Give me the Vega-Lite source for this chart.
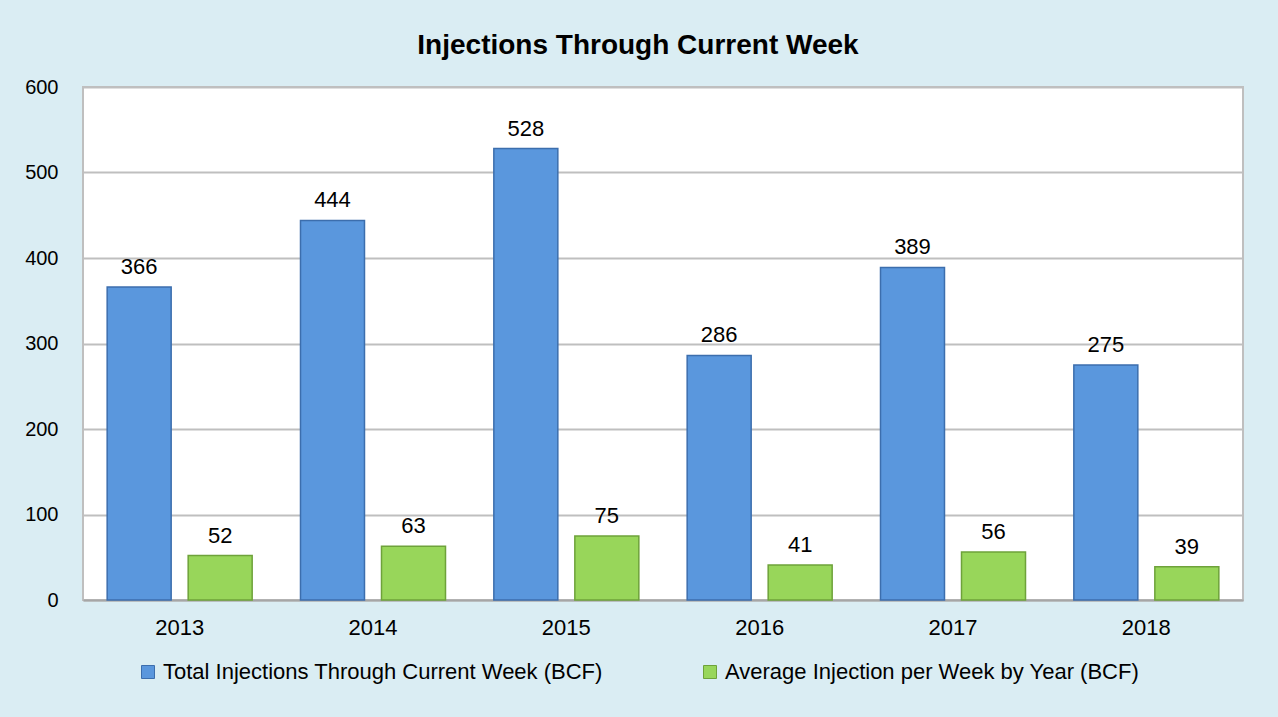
{
  "$schema": "https://vega.github.io/schema/vega-lite/v6.json",
  "autosize": {"type": "none"},
  "width": 1160,
  "height": 513,
  "padding": {"left": 83, "top": 87, "right": 35, "bottom": 117},
  "background": "#DAEDF3",
  "title": {
    "text": "Injections Through Current Week",
    "anchor": "middle",
    "frame": "group",
    "dx": -25,
    "offset": 17,
    "fontSize": 28,
    "fontWeight": "bold",
    "font": "Liberation Sans",
    "color": "#000000"
  },
  "data": {
    "values": [
      {"year": "2013", "series": "Total Injections Through Current Week (BCF)", "value": 366},
      {"year": "2013", "series": "Average Injection per Week by Year (BCF)", "value": 52},
      {"year": "2014", "series": "Total Injections Through Current Week (BCF)", "value": 444},
      {"year": "2014", "series": "Average Injection per Week by Year (BCF)", "value": 63},
      {"year": "2015", "series": "Total Injections Through Current Week (BCF)", "value": 528},
      {"year": "2015", "series": "Average Injection per Week by Year (BCF)", "value": 75},
      {"year": "2016", "series": "Total Injections Through Current Week (BCF)", "value": 286},
      {"year": "2016", "series": "Average Injection per Week by Year (BCF)", "value": 41},
      {"year": "2017", "series": "Total Injections Through Current Week (BCF)", "value": 389},
      {"year": "2017", "series": "Average Injection per Week by Year (BCF)", "value": 56},
      {"year": "2018", "series": "Total Injections Through Current Week (BCF)", "value": 275},
      {"year": "2018", "series": "Average Injection per Week by Year (BCF)", "value": 39}
    ]
  },
  "encoding": {
    "x": {
      "field": "year",
      "type": "nominal",
      "scale": {"paddingInner": 0.25, "paddingOuter": 0.125},
      "axis": {
        "title": null,
        "labelAngle": 0,
        "labelFontSize": 22,
        "labelFont": "Liberation Sans",
        "labelColor": "#000000",
        "labelPadding": 17,
        "ticks": false,
        "domain": true,
        "domainColor": "#A6A6A6",
        "domainWidth": 2
      }
    },
    "xOffset": {
      "field": "series",
      "type": "nominal",
      "sort": ["Total Injections Through Current Week (BCF)", "Average Injection per Week by Year (BCF)"],
      "scale": {"paddingInner": 0.21, "paddingOuter": 0}
    },
    "y": {
      "field": "value",
      "type": "quantitative",
      "scale": {"domain": [0, 600]},
      "axis": {
        "title": null,
        "values": [0, 100, 200, 300, 400, 500, 600],
        "labelFontSize": 20,
        "labelFont": "Liberation Sans",
        "labelColor": "#000000",
        "labelPadding": 25,
        "ticks": false,
        "domain": false,
        "gridColor": "#BFBFBF",
        "gridWidth": 2
      }
    }
  },
  "layer": [
    {
      "mark": {"type": "bar", "strokeWidth": 1.5},
      "encoding": {
        "color": {
          "field": "series",
          "type": "nominal",
          "sort": ["Total Injections Through Current Week (BCF)", "Average Injection per Week by Year (BCF)"],
          "scale": {
            "domain": ["Total Injections Through Current Week (BCF)", "Average Injection per Week by Year (BCF)"],
            "range": ["#5A97DD", "#98D65A"]
          },
          "legend": {
            "title": null,
            "orient": "none",
            "legendX": 54,
            "legendY": 574,
            "direction": "horizontal",
            "symbolType": "square",
            "symbolSize": 169,
            "symbolStrokeWidth": 1,
            "labelFontSize": 22,
            "labelFont": "Liberation Sans",
            "labelColor": "#000000",
            "labelLimit": 600,
            "labelOffset": 4,
            "columnPadding": 96
          }
        },
        "stroke": {
          "field": "series",
          "type": "nominal",
          "scale": {
            "domain": ["Total Injections Through Current Week (BCF)", "Average Injection per Week by Year (BCF)"],
            "range": ["#3C6EAD", "#6EA23A"]
          },
          "legend": null
        }
      }
    },
    {
      "mark": {
        "type": "text",
        "baseline": "bottom",
        "dy": -8,
        "fontSize": 22,
        "font": "Liberation Sans",
        "color": "#000000"
      },
      "encoding": {
        "text": {"field": "value", "type": "quantitative"}
      }
    }
  ],
  "config": {
    "view": {"stroke": "#BFBFBF", "strokeWidth": 2, "fill": "#FFFFFF"}
  }
}
